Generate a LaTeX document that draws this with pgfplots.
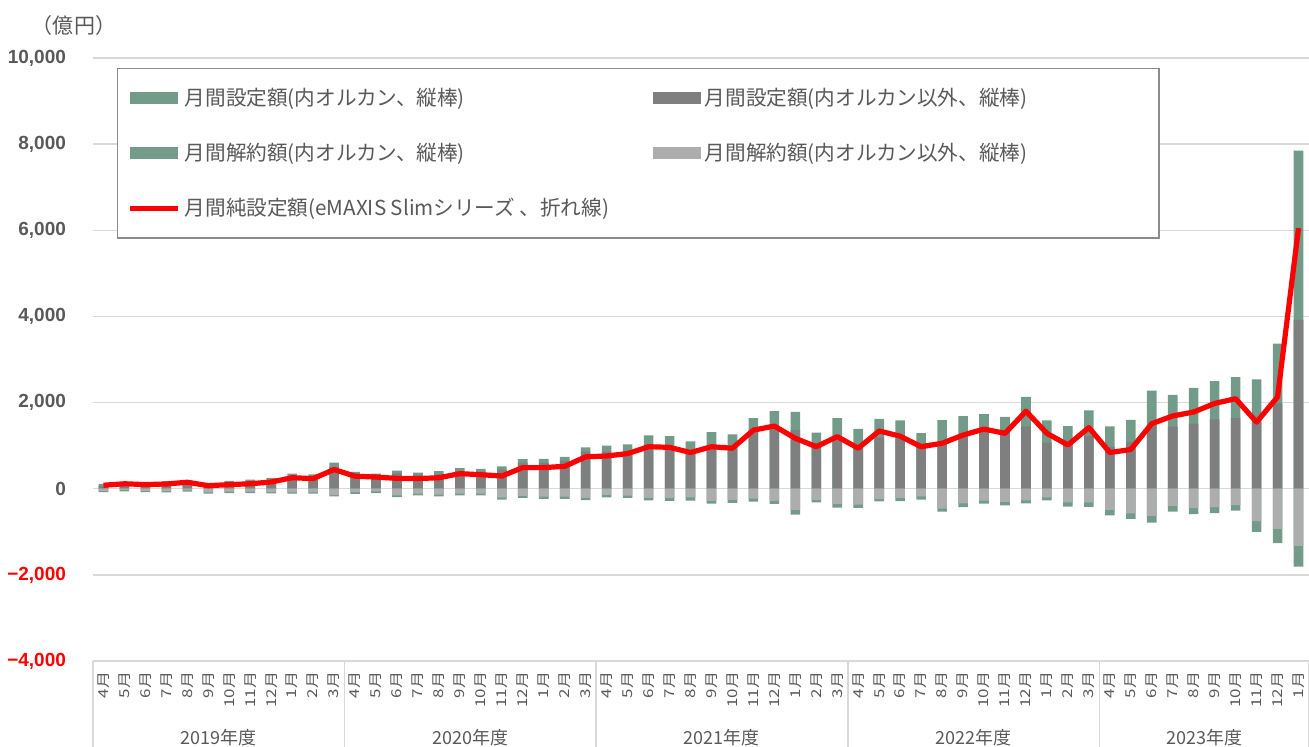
\documentclass[border=0pt]{standalone}
\usepackage{pgfplots}
\pgfplotsset{compat=1.18}
\usepackage{pgfplotstable}
\usepackage{fontspec}
\setmainfont{Noto Sans CJK JP}
\newfontfamily\numfont{Liberation Sans}

\definecolor{orkan}{HTML}{729C89}
\definecolor{darkbar}{HTML}{7F7F7F}
\definecolor{lightbar}{HTML}{ADADAD}
\definecolor{gridc}{HTML}{D9D9D9}
\definecolor{txt}{HTML}{595959}
\definecolor{legc}{HTML}{8C8C8C}

% sx/so: 設定額 (オルカン以外/オルカン), rx/ro: 解約額, net: 純設定額 (億円)
\pgfplotstableread{
idx sx so rx ro net
0 60 55 -50 -30 80
1 110 45 -30 -30 115
2 100 40 -50 -30 95
3 130 40 -55 -30 110
4 150 45 -40 -30 150
5 90 40 -85 -30 70
6 140 40 -70 -30 95
7 165 45 -70 -30 115
8 205 45 -80 -30 155
9 300 50 -85 -30 255
10 285 50 -85 -30 235
11 505 100 -150 -30 445
12 330 60 -80 -40 290
13 290 60 -60 -40 270
14 355 65 -155 -40 240
15 310 65 -115 -40 235
16 345 65 -140 -40 255
17 410 70 -115 -40 350
18 390 70 -115 -40 325
19 440 80 -205 -50 295
20 600 85 -165 -50 490
21 600 90 -185 -50 490
22 650 90 -185 -50 520
23 860 100 -215 -50 740
24 860 140 -145 -55 760
25 880 150 -160 -55 815
26 1020 220 -210 -60 975
27 990 230 -210 -70 960
28 900 200 -200 -75 840
29 1015 300 -285 -60 975
30 980 280 -260 -70 940
31 1360 280 -230 -70 1360
32 1385 415 -285 -70 1455
33 1365 420 -490 -110 1170
34 1050 250 -260 -55 975
35 1130 510 -350 -90 1210
36 940 450 -370 -75 940
37 1190 430 -240 -55 1340
38 1165 420 -215 -75 1220
39 1000 290 -180 -75 975
40 1050 540 -460 -70 1055
41 1205 480 -340 -85 1245
42 1320 410 -275 -70 1385
43 1360 310 -305 -80 1285
44 1450 680 -270 -70 1800
45 1070 515 -200 -70 1285
46 1095 360 -315 -100 1015
47 1220 600 -315 -105 1420
48 970 480 -490 -130 840
49 1090 510 -570 -130 910
50 1475 805 -630 -155 1510
51 1440 740 -400 -130 1690
52 1510 830 -450 -140 1780
53 1610 890 -425 -140 1980
54 1640 950 -380 -130 2090
55 1550 990 -750 -250 1545
56 1980 1390 -935 -330 2130
57 3920 3930 -1330 -480 6050
}\flows

\begin{document}
\begin{tikzpicture}
\path[use as bounding box] (-46.5pt,-43pt) rectangle (608pt,330.5pt);
\begin{axis}[
  scale only axis,
  width=608pt, height=301.5pt,
  at={(0pt,0pt)}, anchor=south west,
  clip=false,
  ybar, bar width=4.8pt,
  xmin=-0.5, xmax=57.5,
  ymin=-4000, ymax=10000,
  axis line style={draw=none},
  tick style={draw=none},
  ymajorgrids,
  grid style={gridc, line width=0.75pt},
  scaled y ticks=false,
  ytick={-4000,-2000,0,2000,4000,6000,8000,10000},
  yticklabels={{\color{red}−4,000},{\color{red}−2,000},0,{2,000},{4,000},{6,000},{8,000},{10,000}},
  y tick label style={font=\numfont\bfseries\fontsize{9.5}{10}\selectfont, text=txt, xshift=-10pt},
  xtick={0,...,57},
  xticklabels={4月,5月,6月,7月,8月,9月,10月,11月,12月,1月,2月,3月,
               4月,5月,6月,7月,8月,9月,10月,11月,12月,1月,2月,3月,
               4月,5月,6月,7月,8月,9月,10月,11月,12月,1月,2月,3月,
               4月,5月,6月,7月,8月,9月,10月,11月,12月,1月,2月,3月,
               4月,5月,6月,7月,8月,9月,10月,11月,12月,1月},
  x tick label style={rotate=90, yscale=0.8, anchor=east, font=\fontsize{8.5}{8.5}\selectfont, text=txt, inner sep=1pt},
  legend columns=2,
  legend cell align=left,
  legend style={at={(0.0197,0.9834)}, anchor=north west, draw=legc, line width=0.75pt,
    inner xsep=5pt, inner ysep=7.5pt, row sep=13.5pt,
    font=\fontsize{10.3}{12}\selectfont, text=txt,
    /tikz/every even column/.append style={column sep=2pt}},
]
\addplot[fill=orkan, draw=none, bar shift=0pt,
  legend image code/.code={\fill[orkan] (0pt,-3pt) rectangle (24pt,3pt);}]
  table[x=idx, y expr=\thisrow{sx}+\thisrow{so}] {\flows};
\addlegendentry{\makebox[230pt][l]{月間設定額(内オルカン、縦棒)}}
\addplot[fill=darkbar, draw=none, bar shift=0pt,
  legend image code/.code={\fill[darkbar] (0pt,-3pt) rectangle (24pt,3pt);}]
  table[x=idx, y=sx] {\flows};
\addlegendentry{\makebox[220pt][l]{月間設定額(内オルカン以外、縦棒)}}
\addplot[fill=orkan, draw=none, bar shift=0pt,
  legend image code/.code={\fill[orkan] (0pt,-3pt) rectangle (24pt,3pt);}]
  table[x=idx, y expr=\thisrow{rx}+\thisrow{ro}] {\flows};
\addlegendentry{\makebox[230pt][l]{月間解約額(内オルカン、縦棒)}}
\addplot[fill=lightbar, draw=none, bar shift=0pt,
  legend image code/.code={\fill[lightbar] (0pt,-3pt) rectangle (24pt,3pt);}]
  table[x=idx, y=rx] {\flows};
\addlegendentry{\makebox[220pt][l]{月間解約額(内オルカン以外、縦棒)}}
\addplot[sharp plot, red, line width=2.6pt, line join=round, mark=none,
  legend image code/.code={\draw[red, line width=2.6pt] (0pt,0pt) -- (24pt,0pt);}]
  table[x=idx, y=net] {\flows};
\addlegendentry{\makebox[230pt][l]{月間純設定額(eMAXIS Slimシリーズ 、折れ線)}}

% fiscal-year boxes under the month labels
\pgfplotsinvokeforeach{-0.5,11.5,23.5,35.5,47.5,57.5}{
  \draw[gridc, line width=0.75pt] (axis cs:#1,-4000) -- ++(0pt,-43pt);
}
\node[font=\fontsize{9}{10}\selectfont, text=txt, yshift=-38.5pt] at (axis cs:5.5,-4000) {2019年度};
\node[font=\fontsize{9}{10}\selectfont, text=txt, yshift=-38.5pt] at (axis cs:17.5,-4000) {2020年度};
\node[font=\fontsize{9}{10}\selectfont, text=txt, yshift=-38.5pt] at (axis cs:29.5,-4000) {2021年度};
\node[font=\fontsize{9}{10}\selectfont, text=txt, yshift=-38.5pt] at (axis cs:41.5,-4000) {2022年度};
\node[font=\fontsize{9}{10}\selectfont, text=txt, yshift=-38.5pt] at (axis cs:52.5,-4000) {2023年度};
\end{axis}
\node[font=\fontsize{10.5}{11}\selectfont, text=txt] at (-9.5pt,317.5pt) {（億円）};
\end{tikzpicture}
\end{document}
